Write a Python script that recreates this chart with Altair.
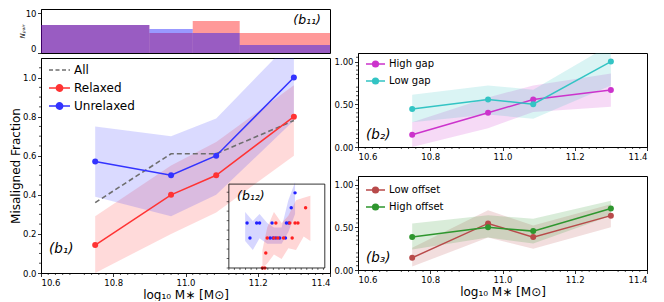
import altair as alt
import pandas as pd

# ---------------- data ----------------
mass = [10.75, 10.96, 11.085, 11.3]

all_frac = [0.36, 0.61, 0.61, 0.78]
relaxed = [0.143, 0.40, 0.50, 0.80]
relaxed_lo = [0.0, 0.20, 0.31, 0.60]
relaxed_hi = [0.29, 0.55, 0.67, 0.96]
unrelaxed = [0.571, 0.50, 0.60, 1.00]
unrelaxed_lo = [0.39, 0.29, 0.40, 0.78]
unrelaxed_hi = [0.75, 0.70, 0.79, 1.20]

high_gap = [0.143, 0.40, 0.556, 0.667]
high_gap_lo = [0.0, 0.22, 0.41, 0.47]
high_gap_hi = [0.29, 0.58, 0.72, 0.86]
low_gap = [0.444, 0.556, 0.50, 1.00]
low_gap_lo = [0.29, 0.38, 0.33, 0.72]
low_gap_hi = [0.61, 0.72, 0.67, 1.20]

low_off = [0.143, 0.545, 0.385, 0.636]
low_off_lo = [0.04, 0.38, 0.25, 0.50]
low_off_hi = [0.26, 0.70, 0.52, 0.77]
high_off = [0.385, 0.50, 0.455, 0.72]
high_off_lo = [0.24, 0.38, 0.31, 0.635]
high_off_hi = [0.545, 0.64, 0.60, 0.81]

hist_start = [10.6, 10.9, 11.02, 11.15]
hist_end = [10.9, 11.02, 11.15, 11.45]
hist_relaxed = [7, 5, 8, 5]
hist_unrelaxed = [7, 6, 5, 2]

# inset (b12): local coordinates (0..1 across the inset box)
inset_blue_x = [0.19, 0.29, 0.32, 0.45, 0.60, 0.625, 0.22, 0.43, 0.46, 0.49, 0.53, 0.59, 0.65, 0.69]
inset_blue_y = [0.5, 0.5, 0.5, 0.5, 0.5, 0.5, 0.333, 0.333, 0.333, 0.333, 0.333, 0.333, 0.667, 0.833]
inset_red_x = [0.49, 0.635, 0.69, 0.72, 0.40, 0.47, 0.51, 0.57, 0.66, 0.385, 0.35, 0.375, 0.80]
inset_red_y = [0.5, 0.5, 0.5, 0.5, 0.333, 0.333, 0.333, 0.333, 0.333, 0.167, 0.0, 0.0, 0.667]
inset_blue_band_x = [0.17, 0.25, 0.32, 0.40, 0.47, 0.55, 0.62, 0.69]
inset_blue_band_lo = [0.30, 0.20, 0.33, 0.27, 0.27, 0.27, 0.40, 0.60]
inset_blue_band_hi = [0.62, 0.52, 0.60, 0.50, 0.45, 0.45, 0.75, 0.95]
inset_red_band_x = [0.35, 0.40, 0.47, 0.55, 0.62, 0.70, 0.78, 0.85]
inset_red_band_lo = [0.0, 0.05, 0.15, 0.10, 0.22, 0.20, 0.35, 0.30]
inset_red_band_hi = [0.20, 0.45, 0.62, 0.50, 0.58, 0.75, 0.78, 0.80]

x_ticks = [10.6, 10.7, 10.8, 10.9, 11.0, 11.1, 11.2, 11.3, 11.4]
y_ticks_main = [0.0, 0.2, 0.4, 0.6, 0.8, 1.0]
y_ticks_side = [0.0, 0.25, 0.5, 0.75, 1.0]
y_ticks_top = [0, 2, 4, 6, 8, 10]

XTITLE = "log₁₀ M∗ [M⊙]"

# ---------------- helpers ----------------
W = 289
H_TOP = 44
H_MAIN = 215
H_SIDE = 94
FONT = "DejaVu Sans"

XS = alt.Scale(domain=[10.6, 11.4], nice=False, zero=False)
YS = alt.Scale(domain=[0, 1.1], nice=False, zero=False)

x_minor = [round(10.6 + 0.02 * i, 2) for i in range(41) if i % 5 != 0]
y_minor_main = [round(0.05 * i, 2) for i in range(22) if i % 4 != 0]
y_minor_side = [round(0.05 * i, 2) for i in range(22) if i % 5 != 0]
inset_xticks = [round(0.058 * i, 3) for i in range(18)]
inset_yticks = [round(0.105 * i, 3) for i in range(9)]

RINGS = ("M-0.3,0A0.3,0.3,0,1,1,0.3,0A0.3,0.3,0,1,1,-0.3,0"
         "M-0.17,0A0.17,0.17,0,1,1,0.17,0A0.17,0.17,0,1,1,-0.17,0"
         "M-0.05,0A0.05,0.05,0,1,1,0.05,0A0.05,0.05,0,1,1,-0.05,0")
LINE = "M-1,0L1,0"
LINE_DOT = LINE + RINGS


def series_df(names, vals, los, his):
    rows = []
    for n, v, lo, hi in zip(names, vals, los, his):
        for m, a, b, c in zip(mass, v, lo, hi):
            rows.append({"series": n, "x": m, "y": a, "lo": b, "hi": c})
    return pd.DataFrame(rows)


def colour(domain, rng, legend=alt.Undefined):
    return alt.Color("series:N", scale=alt.Scale(domain=domain, range=rng), legend=legend)


def fillc(domain, rng):
    # same mapping as the colour scale, listed in reverse so its (hidden) legend is kept apart
    return alt.Fill("series:N", scale=alt.Scale(domain=domain[::-1], range=rng[::-1]), legend=None)


def make_legend(size, font, x, y, rowpad):
    return alt.Legend(
        title=None, orient="none", legendX=x, legendY=y,
        labelFontSize=font, labelFont=FONT, labelColor="black",
        symbolSize=size, symbolStrokeWidth=1.5, symbolType=LINE_DOT,
        rowPadding=rowpad, labelOffset=3, padding=0,
    )


def legend_layer(df, domain, rng, legend, dashed=None):
    enc = dict(
        x=alt.X("x:Q", scale=XS), y=alt.Y("y:Q", scale=YS),
        color=colour(domain, rng, legend),
    )
    if dashed is not None:
        enc["shape"] = alt.Shape("series:N", scale=alt.Scale(
            domain=domain, range=[LINE if d == dashed else LINE_DOT for d in domain]), legend=legend)
        enc["strokeDash"] = alt.StrokeDash("series:N", scale=alt.Scale(
            domain=domain, range=[[4, 2.5] if d == dashed else [10, 0] for d in domain]), legend=legend)
    return alt.Chart(df).transform_filter("false").mark_point(
        filled=False, strokeWidth=1.5, opacity=1).encode(**enc)


def minor_layers(height, yminor):
    mx = alt.Chart(pd.DataFrame({"v": x_minor})).mark_rule(color="black", strokeWidth=0.7).encode(
        x=alt.X("v:Q", scale=XS), y=alt.value(height), y2=alt.value(height + 2))
    my = alt.Chart(pd.DataFrame({"v": yminor})).mark_rule(color="black", strokeWidth=0.7).encode(
        y=alt.Y("v:Q", scale=YS), x=alt.value(0), x2=alt.value(-2))
    return [mx, my]


def label(text, x, y, size=13.5, align="left"):
    return alt.Chart(pd.DataFrame({"t": [text]})).mark_text(
        font=FONT, fontSize=size, fontStyle="italic", align=align, baseline="middle", color="black"
    ).encode(text="t:N", x=alt.value(x), y=alt.value(y))


def line_panel(df, domain, rng, yticks, yfmt, xtitle, ytitle, legend, dashed_df=None, dashed=None):
    bands = alt.Chart(df).mark_area(opacity=0.18, clip=True).encode(
        x=alt.X("x:Q", scale=XS),
        y=alt.Y("lo:Q", scale=YS), y2="hi:Q",
        fill=fillc(domain, rng))
    layers = [bands]
    if dashed_df is not None:
        layers.append(alt.Chart(dashed_df).mark_line(strokeDash=[5, 3], strokeWidth=1.6, clip=True).encode(
            x=alt.X("x:Q", scale=XS), y=alt.Y("y:Q", scale=YS),
            color=colour(domain, rng)))
    lines = alt.Chart(df).mark_line(strokeWidth=1.5, clip=True).encode(
        x=alt.X("x:Q", scale=XS, axis=alt.Axis(values=x_ticks, format=".1f", title=xtitle)),
        y=alt.Y("y:Q", scale=YS, axis=alt.Axis(values=yticks, format=yfmt, title=ytitle)),
        color=colour(domain, rng))
    pts = alt.Chart(df).mark_point(filled=True, size=36, opacity=1).encode(
        x=alt.X("x:Q", scale=XS), y=alt.Y("y:Q", scale=YS),
        fill=fillc(domain, rng))
    layers += [lines, pts, legend_layer(df, domain, rng, legend, dashed)]
    return layers


# ---------------- top histogram (b11) ----------------
hist_df = pd.DataFrame({"start": hist_start, "end": hist_end,
                        "relaxed": hist_relaxed, "unrelaxed": hist_unrelaxed})
TS = alt.Scale(domain=[0, 11], nice=False)
h_red = alt.Chart(hist_df).mark_rect(color="#ff0000", opacity=0.4, clip=True).encode(
    x=alt.X("start:Q", scale=XS, axis=None), x2="end:Q",
    y=alt.Y("relaxed:Q", scale=TS, axis=alt.Axis(values=y_ticks_top, title="Nₚₐᵢᵣ", labelFlush=True,
                                                  titleFontSize=7, titleFontStyle="italic")),
    y2=alt.datum(0))
h_blue = alt.Chart(hist_df).mark_rect(color="#0000ff", opacity=0.4, clip=True).encode(
    x=alt.X("start:Q", scale=XS, axis=None), x2="end:Q",
    y=alt.Y("unrelaxed:Q", scale=TS), y2=alt.datum(0))
top = alt.layer(h_red, h_blue, label("(b₁₁)", 280, 11, 12.5, "right")).properties(width=W, height=H_TOP)

# ---------------- main panel (b1) ----------------
main_dom = ["All", "Relaxed", "Unrelaxed"]
main_rng = ["#6e6e6e", "#ff3333", "#3333ff"]
main_df = series_df(["Relaxed", "Unrelaxed"], [relaxed, unrelaxed],
                    [relaxed_lo, unrelaxed_lo], [relaxed_hi, unrelaxed_hi])
all_df = pd.DataFrame({"series": "All", "x": mass, "y": all_frac})
main_layers = line_panel(main_df, main_dom, main_rng, y_ticks_main, ".1f", XTITLE,
                         "Misaligned Fraction", make_legend(441, 12, 7, 0.5, -8),
                         dashed_df=all_df, dashed="All")

# inset (b12) mapped into the main panel's data space
IX = "11.12 + 0.2656 * datum.lx"
IY = "0.0256 + 0.4615 * datum.ly"
frame = alt.Chart(pd.DataFrame({"lx": [0.0], "lx2": [1.0], "ly": [0.0], "ly2": [0.93]})).transform_calculate(
    X=IX, Y=IY, X2="11.12 + 0.2656 * datum.lx2", Y2="0.0256 + 0.4615 * datum.ly2"
).mark_rect(fillOpacity=0, stroke="black", strokeWidth=0.8).encode(
    x=alt.X("X:Q", scale=XS), x2="X2:Q", y=alt.Y("Y:Q", scale=YS), y2="Y2:Q")


def inset_band(xs, lo, hi, c):
    return alt.Chart(pd.DataFrame({"lx": xs, "lo": lo, "hi": hi})).transform_calculate(
        X=IX, Y="0.0256 + 0.4615 * datum.lo", Y2="0.0256 + 0.4615 * datum.hi"
    ).mark_area(color=c, opacity=0.2).encode(
        x=alt.X("X:Q", scale=XS), y=alt.Y("Y:Q", scale=YS), y2="Y2:Q")


def inset_pts(xs, ys, c):
    return alt.Chart(pd.DataFrame({"lx": xs, "ly": ys})).transform_calculate(X=IX, Y=IY).mark_point(
        filled=True, size=12, opacity=1, color=c).encode(
        x=alt.X("X:Q", scale=XS), y=alt.Y("Y:Q", scale=YS))


ixt = alt.Chart(pd.DataFrame({"lx": inset_xticks})).transform_calculate(
    X=IX, Y0="0.0256", Y1="0.0156").mark_rule(color="black", strokeWidth=0.6).encode(
    x=alt.X("X:Q", scale=XS), y=alt.Y("Y0:Q", scale=YS), y2="Y1:Q")
iyt = alt.Chart(pd.DataFrame({"ly": inset_yticks})).transform_calculate(
    Y=IY, X0="11.12", X1="11.114").mark_rule(color="black", strokeWidth=0.6).encode(
    y=alt.Y("Y:Q", scale=YS), x=alt.X("X0:Q", scale=XS), x2="X1:Q")

inset_layers = [inset_band(inset_blue_band_x, inset_blue_band_lo, inset_blue_band_hi, "#3333ff"),
                inset_band(inset_red_band_x, inset_red_band_lo, inset_red_band_hi, "#ff3333"),
                inset_pts(inset_blue_x, inset_blue_y, "#2020ff"),
                inset_pts(inset_red_x, inset_red_y, "#ff2020"),
                frame, ixt, iyt]

main = alt.layer(*main_layers, *inset_layers, *minor_layers(H_MAIN, y_minor_main),
                 label("(b₁)", 8, 191), label("(b₁₂)", 196, 138, 12.5)).properties(width=W, height=H_MAIN)

# ---------------- right panels (b2, b3) ----------------
gap_dom = ["High gap", "Low gap"]
gap_rng = ["#cc33cc", "#33c4c4"]
gap_df = series_df(gap_dom, [high_gap, low_gap], [high_gap_lo, low_gap_lo], [high_gap_hi, low_gap_hi])
b2 = alt.layer(*line_panel(gap_df, gap_dom, gap_rng, y_ticks_side, ".2f", None, None,
                           make_legend(361, 10, 7, 0.5, -9)),
               *minor_layers(H_SIDE, y_minor_side),
               label("(b₂)", 8, 82)).properties(width=W, height=H_SIDE)

off_dom = ["Low offset", "High offset"]
off_rng = ["#b84a4a", "#2e962e"]
off_df = series_df(off_dom, [low_off, high_off], [low_off_lo, high_off_lo], [low_off_hi, high_off_hi])
b3 = alt.layer(*line_panel(off_df, off_dom, off_rng, y_ticks_side, ".2f", XTITLE, None,
                           make_legend(361, 10, 7, 3.5, -9)),
               *minor_layers(H_SIDE, y_minor_side),
               label("(b₃)", 8, 82)).properties(width=W, height=H_SIDE)

spacer = alt.Chart(pd.DataFrame({"a": [0]})).mark_point(opacity=0).encode(
    x=alt.X("a:Q", axis=None), y=alt.Y("a:Q", axis=None)
).properties(width=W, height=29, view=alt.ViewBackground(strokeOpacity=0))

IND = dict(color="independent", fill="independent", shape="independent", strokeDash="independent")
left = alt.vconcat(top, main, spacing=3).resolve_scale(**IND)
right = alt.vconcat(spacer, b2, b3, spacing=14).resolve_scale(color="independent", fill="independent")

chart = alt.hconcat(left, right, spacing=2).resolve_scale(**IND).properties(
    padding={"left": 0, "top": 0, "right": 0, "bottom": 0}
).configure_view(stroke="black", strokeWidth=1).configure_axis(
    labelFont=FONT, titleFont=FONT, labelFontSize=8.5, titleFontSize=12, titleFontWeight="normal",
    labelColor="black", titleColor="black", tickColor="black", domainColor="black",
    tickSize=3.5, labelPadding=1.5, grid=False, domainWidth=1, tickWidth=0.8,
).configure_axisX(titlePadding=3).configure_axisY(titlePadding=0).configure_legend(labelFont=FONT)

chart.save("out.html", embed_options={"renderer": "svg", "actions": False})
